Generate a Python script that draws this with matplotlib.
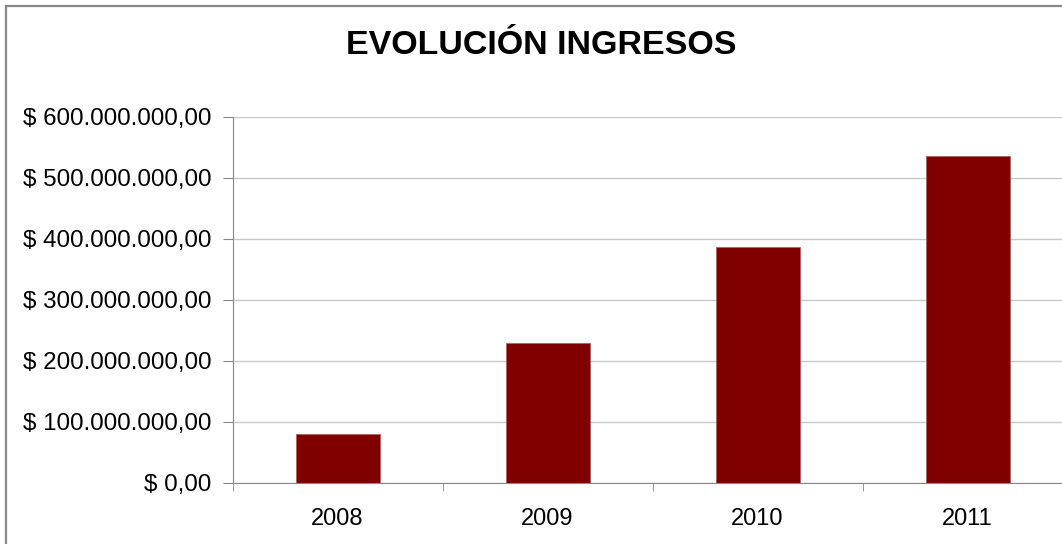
import matplotlib
matplotlib.use("Agg")
import matplotlib.pyplot as plt
import matplotlib.ticker as ticker
from matplotlib.patches import Rectangle

years = ["2008", "2009", "2010", "2011"]
ingresos = [81000000, 229000000, 386000000, 535000000]
y_ticks = [0, 100000000, 200000000, 300000000, 400000000, 500000000, 600000000]

plt.rcParams['font.family'] = ['Liberation Sans', 'DejaVu Sans']

W, H = 1062, 544
fig = plt.figure(figsize=(W / 100, H / 100), dpi=100)

# chart frame (cut off at right and bottom like the reference)
fig.patches.append(Rectangle((6 / W, -0.1), 1.2, 1 - 6 / H + 0.1, transform=fig.transFigure,
                             fill=False, edgecolor="#888888", linewidth=1.6))

ax = fig.add_axes([232.5 / W, 1 - 483 / H, 840 / W, (483 - 116.7) / H])
x = range(len(years))
ax.bar(x, ingresos, width=0.4, color="#800000", edgecolor="#b06060", linewidth=0.6, zorder=3)

ax.set_xlim(-0.5, 3.5)
ax.set_ylim(0, 600000000)
ax.set_yticks(y_ticks)


def fmt(v, pos):
    s = "{:,.2f}".format(v).replace(",", "X").replace(".", ",").replace("X", ".")
    return "$ " + s


ax.yaxis.set_major_formatter(ticker.FuncFormatter(fmt))
ax.set_xticks(list(x))
ax.set_xticklabels(years)
ax.set_xticks([-0.5, 0.5, 1.5, 2.5, 3.5], minor=True)
ax.tick_params(axis='x', which='major', length=0, labelsize=17, pad=18)
ax.tick_params(axis='x', which='minor', length=6, color="#888888", direction='out')
ax.tick_params(axis='y', length=7, color="#888888", labelsize=17.4, pad=8)

ax.grid(axis='y', color="#c8c8c8", linewidth=1, zorder=0)
for side in ["top", "right"]:
    ax.spines[side].set_visible(False)
for side in ["left", "bottom"]:
    ax.spines[side].set_color("#888888")

fig.text(541 / W, 1 - 46 / H, "EVOLUCIÓN INGRESOS", ha="center", va="center",
         fontsize=24.5, fontweight="bold")

fig.savefig("out.png", dpi=100)
